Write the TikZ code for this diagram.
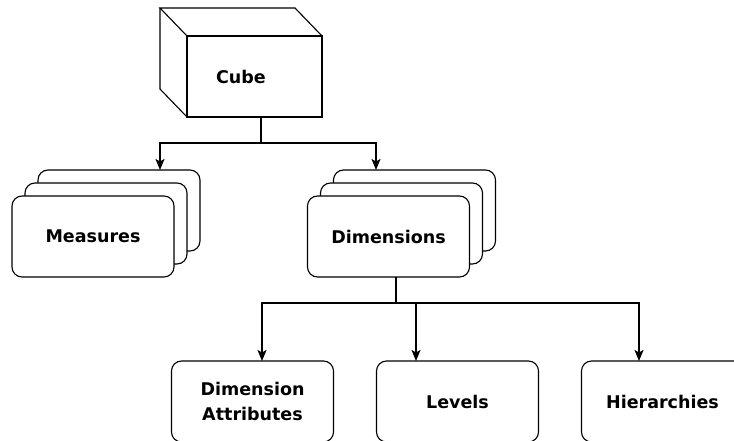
\documentclass[tikz,border=0pt]{standalone}
\usepackage{fontspec}
\newfontfamily\lblfont{DejaVu Sans}
\usetikzlibrary{arrows.meta}
\begin{document}
\begin{tikzpicture}[x=1pt,y=-1pt,
  lbl/.style={font=\lblfont\bfseries\fontsize{17.5}{25}\selectfont, text=black},
  card/.style={draw=black, line width=1.1pt, fill=white, rounded corners=10pt,
    minimum width=162pt, minimum height=81pt, inner sep=0pt, outer sep=0pt,
    lbl, align=center},
  edge/.style={draw=black, line width=1.6pt},
  arr/.style={edge, -{Stealth[length=11pt,width=9pt,inset=2.5pt]}},
  face/.style={draw=black, line width=1.1pt, line join=miter}]
\useasboundingbox (0,0) rectangle (734,441);

% cube: front face plus the receding top and left faces
\node[face, fill=white, minimum width=135pt, minimum height=81pt, inner sep=0pt, outer sep=0pt]
  (cube) at (254.5,76.5) {};
\coordinate (d) at (-27,-28);
\draw[face] (cube.north west) -- ++(d) -- ([shift={(d)}]cube.north east) -- (cube.north east);
\draw[face] ([shift={(d)}]cube.north west) -- ([shift={(d)}]cube.south west) -- (cube.south west);
\node[lbl] (cubelbl) at (241,77) {Cube};

% stacked cards
\node[card] (meas3) at (119,210.5) {};
\node[card] (meas2) at (106,223.5) {};
\node[card] (meas)  at (93,236.5) {Measures};

\node[card] (dim3) at (414.5,210.5) {};
\node[card] (dim2) at (401.5,223.5) {};
\node[card] (dim)  at (388.5,236.5) {Dimensions};

% dimension parts
\node[card] (attr) at (252.5,401.5) {Dimension\\Attributes};
\node[card] (lev)  at (457.5,401.5) {Levels};
\node[card] (hier) at (662.5,401.5) {Hierarchies};

% connectors from the cube
\coordinate (j1) at (261,143);
\coordinate (xm) at (160,0);
\coordinate (xd) at (376,0);
\draw[edge] (cube.south -| j1) -- (j1);
\draw[arr] (j1) -| (meas3.north -| xm);
\draw[arr] (j1) -| (dim3.north -| xd);

% connectors from the dimensions
\coordinate (j2) at (396,303);
\coordinate (xa) at (262,0);
\coordinate (xl) at (416,0);
\coordinate (xh) at (639,0);
\draw[edge] (dim.south -| j2) -- (j2);
\draw[arr] (j2) -| (attr.north -| xa);
\draw[arr] (j2) -| (hier.north -| xh);
\draw[arr] (j2 -| xl) -- (lev.north -| xl);
\end{tikzpicture}
\end{document}
